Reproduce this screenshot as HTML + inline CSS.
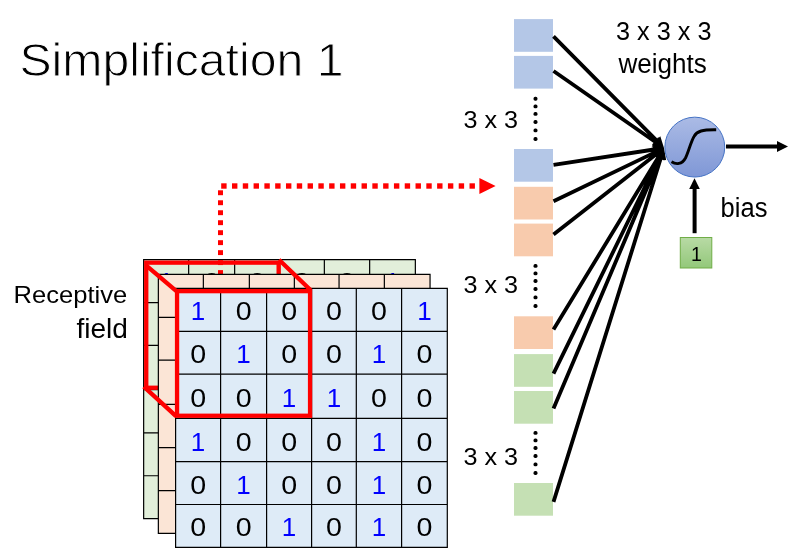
<!DOCTYPE html>
<html><head><meta charset="utf-8">
<style>
html,body{margin:0;padding:0;background:#fff;}
body{width:800px;height:557px;overflow:hidden;position:relative;}
svg{position:absolute;left:0;top:0;will-change:transform;}
text{font-family:"Liberation Sans",sans-serif;}
.dg text{font-size:26px;text-anchor:middle;}
</style></head><body>
<svg width="800" height="557" viewBox="0 0 800 557">
<defs>
<linearGradient id="cg" x1="0" y1="0" x2="0" y2="1"><stop offset="0" stop-color="#abbbe5"/><stop offset="1" stop-color="#7f97d6"/></linearGradient>
<linearGradient id="bg" x1="0" y1="0" x2="0" y2="1"><stop offset="0" stop-color="#b8daa5"/><stop offset="1" stop-color="#93c87a"/></linearGradient>
</defs>
<g class="dg"><rect x="143.65" y="259.65" width="271.70" height="258.95" fill="#e2efda"/>
<path d="M143.65 259.65V518.60 M188.65 259.65V518.60 M234.65 259.65V518.60 M279.65 259.65V518.60 M324.35 259.65V518.60 M369.65 259.65V518.60 M415.35 259.65V518.60 M143.65 259.65H415.35 M143.65 302.55H415.35 M143.65 345.35H415.35 M143.65 389.60H415.35 M143.65 432.90H415.35 M143.65 475.75H415.35 M143.65 518.60H415.35" stroke="#000" stroke-width="1.2" fill="none" stroke-linecap="square"/>
<text x="166.15" y="290.95" fill="#0000ff">1</text>
<text x="211.65" y="290.95" fill="#000" transform="translate(211.65 0) scale(1.1 1) translate(-211.65 0)">0</text>
<text x="257.15" y="290.95" fill="#000" transform="translate(257.15 0) scale(1.1 1) translate(-257.15 0)">0</text>
<text x="302.00" y="290.95" fill="#000" transform="translate(302.00 0) scale(1.1 1) translate(-302.00 0)">0</text>
<text x="347.00" y="290.95" fill="#000" transform="translate(347.00 0) scale(1.1 1) translate(-347.00 0)">0</text>
<text x="392.50" y="290.95" fill="#0000ff">1</text></g>
<g fill="#ff0000"><rect x="218" y="190.30" width="5" height="4.9"/><rect x="218" y="200.28" width="5" height="4.9"/><rect x="218" y="210.26" width="5" height="4.9"/><rect x="218" y="220.24" width="5" height="4.9"/><rect x="218" y="230.22" width="5" height="4.9"/><rect x="218" y="240.20" width="5" height="4.9"/><rect x="218" y="250.18" width="5" height="4.9"/><rect x="218" y="260.16" width="5" height="4.9"/><rect x="218" y="270.14" width="5" height="4.9"/><rect x="221.20" y="183.3" width="5.4" height="5.4"/><rect x="232.00" y="183.3" width="5.4" height="5.4"/><rect x="242.79" y="183.3" width="5.4" height="5.4"/><rect x="253.59" y="183.3" width="5.4" height="5.4"/><rect x="264.38" y="183.3" width="5.4" height="5.4"/><rect x="275.18" y="183.3" width="5.4" height="5.4"/><rect x="285.98" y="183.3" width="5.4" height="5.4"/><rect x="296.77" y="183.3" width="5.4" height="5.4"/><rect x="307.57" y="183.3" width="5.4" height="5.4"/><rect x="318.36" y="183.3" width="5.4" height="5.4"/><rect x="329.16" y="183.3" width="5.4" height="5.4"/><rect x="339.96" y="183.3" width="5.4" height="5.4"/><rect x="350.75" y="183.3" width="5.4" height="5.4"/><rect x="361.55" y="183.3" width="5.4" height="5.4"/><rect x="372.34" y="183.3" width="5.4" height="5.4"/><rect x="383.14" y="183.3" width="5.4" height="5.4"/><rect x="393.94" y="183.3" width="5.4" height="5.4"/><rect x="404.73" y="183.3" width="5.4" height="5.4"/><rect x="415.53" y="183.3" width="5.4" height="5.4"/><rect x="426.32" y="183.3" width="5.4" height="5.4"/><rect x="437.12" y="183.3" width="5.4" height="5.4"/><rect x="447.92" y="183.3" width="5.4" height="5.4"/><rect x="458.71" y="183.3" width="5.4" height="5.4"/><rect x="469.51" y="183.3" width="5.4" height="5.4"/><path d="M479.4 178.1L495.6 186L479.4 193.9Z"/></g>
<rect x="146.25" y="262.65" width="132.4" height="125.1" fill="none" stroke="#ff0000" stroke-width="4.3"/>
<g class="dg"><rect x="158.35" y="274.45" width="271.70" height="258.95" fill="#fbe5d6"/>
<path d="M158.35 274.45V533.40 M203.35 274.45V533.40 M249.35 274.45V533.40 M294.35 274.45V533.40 M339.05 274.45V533.40 M384.35 274.45V533.40 M430.05 274.45V533.40 M158.35 274.45H430.05 M158.35 317.35H430.05 M158.35 360.15H430.05 M158.35 404.40H430.05 M158.35 447.70H430.05 M158.35 490.55H430.05 M158.35 533.40H430.05" stroke="#000" stroke-width="1.2" fill="none" stroke-linecap="square"/></g>
<g class="dg"><rect x="175.60" y="288.40" width="271.70" height="258.95" fill="#deebf7"/>
<path d="M175.60 288.40V547.35 M220.60 288.40V547.35 M266.60 288.40V547.35 M311.60 288.40V547.35 M356.30 288.40V547.35 M401.60 288.40V547.35 M447.30 288.40V547.35 M175.60 288.40H447.30 M175.60 331.30H447.30 M175.60 374.10H447.30 M175.60 418.35H447.30 M175.60 461.65H447.30 M175.60 504.50H447.30 M175.60 547.35H447.30" stroke="#000" stroke-width="1.2" fill="none" stroke-linecap="square"/>
<text x="198.10" y="320.40" fill="#0000ff">1</text>
<text x="243.60" y="320.40" fill="#000" transform="translate(243.60 0) scale(1.1 1) translate(-243.60 0)">0</text>
<text x="289.10" y="320.40" fill="#000" transform="translate(289.10 0) scale(1.1 1) translate(-289.10 0)">0</text>
<text x="333.95" y="320.40" fill="#000" transform="translate(333.95 0) scale(1.1 1) translate(-333.95 0)">0</text>
<text x="378.95" y="320.40" fill="#000" transform="translate(378.95 0) scale(1.1 1) translate(-378.95 0)">0</text>
<text x="424.45" y="320.40" fill="#0000ff">1</text>
<text x="198.10" y="363.25" fill="#000" transform="translate(198.10 0) scale(1.1 1) translate(-198.10 0)">0</text>
<text x="243.60" y="363.25" fill="#0000ff">1</text>
<text x="289.10" y="363.25" fill="#000" transform="translate(289.10 0) scale(1.1 1) translate(-289.10 0)">0</text>
<text x="333.95" y="363.25" fill="#000" transform="translate(333.95 0) scale(1.1 1) translate(-333.95 0)">0</text>
<text x="378.95" y="363.25" fill="#0000ff">1</text>
<text x="424.45" y="363.25" fill="#000" transform="translate(424.45 0) scale(1.1 1) translate(-424.45 0)">0</text>
<text x="198.10" y="406.78" fill="#000" transform="translate(198.10 0) scale(1.1 1) translate(-198.10 0)">0</text>
<text x="243.60" y="406.78" fill="#000" transform="translate(243.60 0) scale(1.1 1) translate(-243.60 0)">0</text>
<text x="289.10" y="406.78" fill="#0000ff">1</text>
<text x="333.95" y="406.78" fill="#0000ff">1</text>
<text x="378.95" y="406.78" fill="#000" transform="translate(378.95 0) scale(1.1 1) translate(-378.95 0)">0</text>
<text x="424.45" y="406.78" fill="#000" transform="translate(424.45 0) scale(1.1 1) translate(-424.45 0)">0</text>
<text x="198.10" y="450.55" fill="#0000ff">1</text>
<text x="243.60" y="450.55" fill="#000" transform="translate(243.60 0) scale(1.1 1) translate(-243.60 0)">0</text>
<text x="289.10" y="450.55" fill="#000" transform="translate(289.10 0) scale(1.1 1) translate(-289.10 0)">0</text>
<text x="333.95" y="450.55" fill="#000" transform="translate(333.95 0) scale(1.1 1) translate(-333.95 0)">0</text>
<text x="378.95" y="450.55" fill="#0000ff">1</text>
<text x="424.45" y="450.55" fill="#000" transform="translate(424.45 0) scale(1.1 1) translate(-424.45 0)">0</text>
<text x="198.10" y="493.62" fill="#000" transform="translate(198.10 0) scale(1.1 1) translate(-198.10 0)">0</text>
<text x="243.60" y="493.62" fill="#0000ff">1</text>
<text x="289.10" y="493.62" fill="#000" transform="translate(289.10 0) scale(1.1 1) translate(-289.10 0)">0</text>
<text x="333.95" y="493.62" fill="#000" transform="translate(333.95 0) scale(1.1 1) translate(-333.95 0)">0</text>
<text x="378.95" y="493.62" fill="#0000ff">1</text>
<text x="424.45" y="493.62" fill="#000" transform="translate(424.45 0) scale(1.1 1) translate(-424.45 0)">0</text>
<text x="198.10" y="536.47" fill="#000" transform="translate(198.10 0) scale(1.1 1) translate(-198.10 0)">0</text>
<text x="243.60" y="536.47" fill="#000" transform="translate(243.60 0) scale(1.1 1) translate(-243.60 0)">0</text>
<text x="289.10" y="536.47" fill="#0000ff">1</text>
<text x="333.95" y="536.47" fill="#000" transform="translate(333.95 0) scale(1.1 1) translate(-333.95 0)">0</text>
<text x="378.95" y="536.47" fill="#0000ff">1</text>
<text x="424.45" y="536.47" fill="#000" transform="translate(424.45 0) scale(1.1 1) translate(-424.45 0)">0</text></g>
<rect x="177.05" y="291.15" width="133" height="124.6" fill="none" stroke="#ff0000" stroke-width="4.3"/>
<path d="M146 265.3L177 291.6M279 259.8L310.5 290M143.8 386.6L176 416.2" stroke="#ff0000" stroke-width="4.3" fill="none"/>
<rect x="514" y="19.1" width="39" height="32.7" fill="#b4c7e7"/>
<rect x="514" y="55.9" width="39" height="32.7" fill="#b4c7e7"/>
<rect x="514" y="149.0" width="39" height="32.7" fill="#b4c7e7"/>
<rect x="514" y="186.8" width="39" height="32.7" fill="#f8cbad"/>
<rect x="514" y="223.6" width="39" height="32.7" fill="#f8cbad"/>
<rect x="514" y="316.3" width="39" height="32.7" fill="#f8cbad"/>
<rect x="514" y="354.1" width="39" height="32.7" fill="#c5e0b4"/>
<rect x="514" y="391.0" width="39" height="32.7" fill="#c5e0b4"/>
<rect x="514" y="483.0" width="39" height="32.7" fill="#c5e0b4"/>
<rect x="533.5" y="96.85" width="4" height="3.9" rx="1.7" fill="#000"/>
<rect x="533.5" y="104.45" width="4" height="3.9" rx="1.7" fill="#000"/>
<rect x="533.5" y="111.95" width="4" height="3.9" rx="1.7" fill="#000"/>
<rect x="533.5" y="120.05" width="4" height="3.9" rx="1.7" fill="#000"/>
<rect x="533.5" y="128.45" width="4" height="3.9" rx="1.7" fill="#000"/>
<rect x="533.5" y="137.05" width="4" height="3.9" rx="1.7" fill="#000"/>
<rect x="533.5" y="263.95" width="4" height="3.9" rx="1.7" fill="#000"/>
<rect x="533.5" y="271.45" width="4" height="3.9" rx="1.7" fill="#000"/>
<rect x="533.5" y="279.05" width="4" height="3.9" rx="1.7" fill="#000"/>
<rect x="533.5" y="287.05" width="4" height="3.9" rx="1.7" fill="#000"/>
<rect x="533.5" y="295.45" width="4" height="3.9" rx="1.7" fill="#000"/>
<rect x="533.5" y="304.05" width="4" height="3.9" rx="1.7" fill="#000"/>
<rect x="533.5" y="430.95" width="4" height="3.9" rx="1.7" fill="#000"/>
<rect x="533.5" y="438.45" width="4" height="3.9" rx="1.7" fill="#000"/>
<rect x="533.5" y="446.05" width="4" height="3.9" rx="1.7" fill="#000"/>
<rect x="533.5" y="454.05" width="4" height="3.9" rx="1.7" fill="#000"/>
<rect x="533.5" y="462.45" width="4" height="3.9" rx="1.7" fill="#000"/>
<rect x="533.5" y="471.05" width="4" height="3.9" rx="1.7" fill="#000"/>
<path d="M553.5 36.4L656.96 140.89 M553.5 71.0L655.80 142.28 M553.5 164.8L654.11 149.50 M553.5 201.2L654.99 152.34 M553.5 234.5L656.13 154.16 M553.5 329.6L658.80 156.54 M553.5 373.6L659.60 156.98 M553.5 408.5L660.09 157.21 M553.5 501.9L661.02 157.55" stroke="#000" stroke-width="3.8" fill="none"/>
<path d="M664 148L652.21 144.19L660.31 136.17Z M664 148L651.72 146.39L658.23 137.03Z M664 148L653.98 155.29L652.27 144.02Z M664 148L656.56 157.91L651.62 147.64Z M664 148L658.85 159.27L651.82 150.29Z M664 148L663.15 160.36L653.41 154.43Z M664 148L664.28 160.39L654.04 155.37Z M664 148L664.95 160.35L654.46 155.90Z M664 148L666.16 160.20L655.28 156.80Z" fill="#000"/>
<!-- neuron -->
<circle cx="694.8" cy="147.1" r="29.95" fill="url(#cg)" stroke="#4472c4" stroke-width="1"/>
<path d="M671.5 161.8C676 164.6 682 164.6 685.5 158 C688.5 152 690.8 142 694 136.5 C697 131 702.5 129.6 716.2 129.8" stroke="#000" stroke-width="2.9" fill="none"/>
<path d="M726 146.5H778" stroke="#000" stroke-width="3.9"/>
<path d="M777 141L788 146.5L777 152Z" fill="#000"/>
<path d="M694.6 233.2V188" stroke="#000" stroke-width="4"/>
<path d="M689.2 189L694.5 178.2L699.8 189Z" fill="#000"/>
<rect x="680.3" y="237.5" width="31.5" height="30.5" fill="url(#bg)" stroke="#70ad47" stroke-width="1"/>
<text x="696.5" y="260.5" font-size="19.5" text-anchor="middle">1</text>
<!-- texts -->
<text x="19.40" y="75.50" font-size="47" textLength="324.12" lengthAdjust="spacingAndGlyphs" stroke="#fff" stroke-width="1.0">Simplification 1</text>
<text x="616.00" y="39.60" font-size="25.5" textLength="95.44" lengthAdjust="spacingAndGlyphs">3 x 3 x 3</text>
<text x="618.40" y="73.40" font-size="27" textLength="88.43" lengthAdjust="spacingAndGlyphs">weights</text>
<text x="720.60" y="217.40" font-size="27" textLength="46.83" lengthAdjust="spacingAndGlyphs">bias</text>
<text x="13.60" y="303.30" font-size="24.5" textLength="113.65" lengthAdjust="spacingAndGlyphs">Receptive</text>
<text x="76.40" y="337.80" font-size="27" textLength="51.48" lengthAdjust="spacingAndGlyphs">field</text>
<text x="463.40" y="128.00" font-size="24.7" textLength="54.65" lengthAdjust="spacingAndGlyphs">3 x 3</text>
<text x="463.40" y="292.70" font-size="24.7" textLength="54.65" lengthAdjust="spacingAndGlyphs">3 x 3</text>
<text x="463.40" y="465.20" font-size="24.7" textLength="54.65" lengthAdjust="spacingAndGlyphs">3 x 3</text>
</svg>
</body></html>
